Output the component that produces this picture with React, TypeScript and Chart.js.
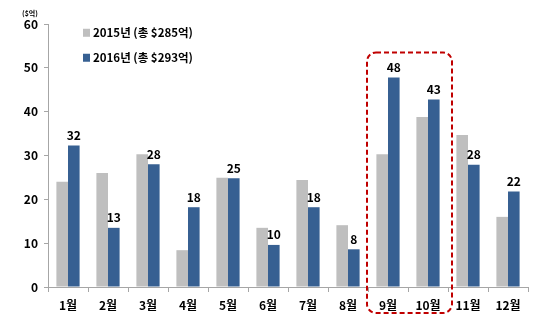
import React, { useEffect, useRef } from "react";
import { Chart, registerables } from "chart.js";
Chart.register(...registerables);

const months = ["1월", "2월", "3월", "4월", "5월", "6월", "7월", "8월", "9월", "10월", "11월", "12월"];
const values2015 = [24.0, 26.0, 30.3, 8.4, 24.9, 13.5, 24.4, 14.1, 30.3, 38.8, 34.7, 16.0];
const values2016 = [32.3, 13.5, 28.0, 18.2, 24.8, 9.6, 18.2, 8.6, 47.8, 42.8, 27.9, 21.8];
const labels2016 = ["32", "13", "28", "18", "25", "10", "18", "8", "48", "43", "28", "22"];
const legendLabels = ["2015년 (총 $285억)", "2016년 (총 $293억)"];
const unitLabel = "($억)";
const yTicks = [0, 10, 20, 30, 40, 50, 60];

const GRAY = "#BFBFBF";
const BLUE = "#376092";
const FONT = "'Noto Sans CJK KR', 'DejaVu Sans', sans-serif";

export default function App() {
  const ref = useRef<HTMLCanvasElement>(null);
  useEffect(() => {
    document.body.style.margin = "0";
    const overlay = {
      id: "overlay",
      afterDatasetsDraw(chart: any) {
        const ctx = chart.ctx;
        const x = chart.scales.x;
        const y = chart.scales.y;
        ctx.save();
        const meta = chart.getDatasetMeta(1);
        ctx.fillStyle = "#000";
        ctx.font = `bold 12px ${FONT}`;
        ctx.textAlign = "center";
        ctx.textBaseline = "bottom";
        meta.data.forEach((bar: any, i: number) => {
          ctx.fillText(labels2016[i], bar.x, bar.y - 4);
        });
        ctx.textAlign = "left";
        ctx.textBaseline = "middle";
        ctx.font = `bold 11.5px ${FONT}`;
        const lx = x.getPixelForValue(0) + 15;
        const ly0 = y.getPixelForValue(58);
        const ly1 = y.getPixelForValue(52.3);
        [[GRAY, ly0], [BLUE, ly1]].forEach(([c, ly]: any, i) => {
          ctx.fillStyle = c;
          ctx.fillRect(lx, ly - 4, 7, 8);
          ctx.fillStyle = "#000";
          ctx.fillText(legendLabels[i], lx + 10, ly);
        });
        ctx.font = `bold 7px ${FONT}`;
        ctx.textAlign = "center";
        ctx.fillText(unitLabel, 30, 13);
        const left = x.getPixelForValue(8) - 21;
        const right = x.getPixelForValue(9) + 24;
        const top = y.getPixelForValue(53.5);
        const bottom = chart.chartArea.bottom + 26;
        ctx.strokeStyle = "#C00000";
        ctx.lineWidth = 2;
        ctx.setLineDash([5, 3]);
        ctx.beginPath();
        (ctx as any).roundRect(left, top, right - left, bottom - top, 9);
        ctx.stroke();
        ctx.restore();
      },
    };
    const chart = new Chart(ref.current!, {
      type: "bar",
      data: {
        labels: months,
        datasets: [
          { label: legendLabels[0], data: values2015, backgroundColor: GRAY, categoryPercentage: 0.58, barPercentage: 1 },
          { label: legendLabels[1], data: values2016, backgroundColor: BLUE, categoryPercentage: 0.58, barPercentage: 1 },
        ],
      },
      options: {
        animation: false,
        responsive: false,
        layout: { padding: { top: 24, right: 12, left: 0, bottom: 0 } },
        plugins: { legend: { display: false }, tooltip: { enabled: false } },
        scales: {
          x: {
            grid: { display: true, drawOnChartArea: false, drawTicks: true, tickLength: 5, offset: true, color: "#A6A6A6" },
            border: { color: "#A6A6A6" },
            ticks: { color: "#000", font: { family: FONT, size: 12, weight: "bold" }, padding: 6 },
            afterFit: (s: any) => { s.height = 38; },
          },
          y: {
            min: 0,
            max: 60,
            afterBuildTicks: (s: any) => { s.ticks = yTicks.map((v) => ({ value: v })); },
            grid: { display: true, drawOnChartArea: false, drawTicks: true, tickLength: 4, color: "#A6A6A6" },
            border: { color: "#A6A6A6" },
            ticks: { color: "#000", font: { family: FONT, size: 12, weight: "bold" }, padding: 6 },
            afterFit: (s: any) => { s.width = 48; },
          },
        },
      },
      plugins: [overlay],
    });
    return () => chart.destroy();
  }, []);
  return <canvas ref={ref} width={540} height={325} style={{ display: "block" }} />;
}
